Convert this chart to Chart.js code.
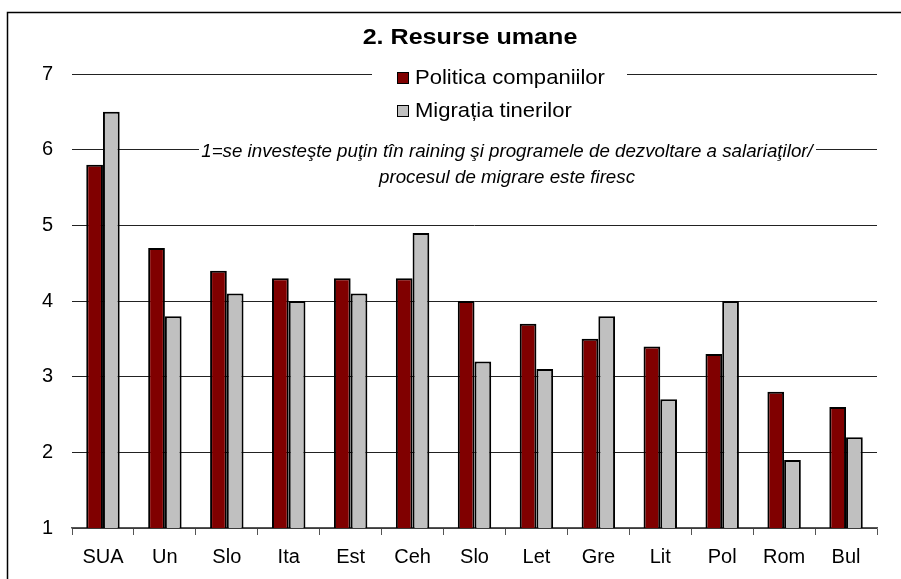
<!DOCTYPE html>
<html>
<head>
<meta charset="utf-8">
<script src="https://cdn.jsdelivr.net/npm/chart.js@4"></script>
<style>
  body { margin: 0; background: #fff; }
  #wrap { width: 901px; height: 579px; }
</style>
</head>
<body>
<div id="wrap"><canvas id="chartResurseCanvas" width="901" height="579"></canvas></div>
<script>
// data
var tari = ["SUA", "Un", "Slo", "Ita", "Est", "Ceh", "Slo", "Let", "Gre", "Lit", "Pol", "Rom", "Bul"];
var politicaCompaniilor = [5.8, 4.7, 4.4, 4.3, 4.3, 4.3, 4.0, 3.7, 3.5, 3.4, 3.3, 2.8, 2.6];
var migratiaTinerilor   = [6.5, 3.8, 4.1, 4.0, 4.1, 4.9, 3.2, 3.1, 3.8, 2.7, 4.0, 1.9, 2.2];
var yMin = 1, yMax = 7, yStep = 1;

var titlu = "2. Resurse umane";
var numeSerii = ["Politica companiilor", "Migrația tinerilor"];
var culori = ["#800000", "#C0C0C0"];
var nota = ["1=se investeşte puţin tîn raining şi programele de dezvoltare a salariaţilor/",
            "procesul de migrare este firesc"];

var FONT = "'Liberation Sans', Arial, sans-serif";

// text a bit stretched sideways, like the original picture
function textLat(ctx, txt, x, y, sx) {
    ctx.save();
    ctx.translate(x, y);
    ctx.scale(sx, 1);
    ctx.fillText(txt, 0, 0);
    ctx.restore();
}

// title, legend box, note box and the outer frame
var decor = {
    id: "decor",
    beforeDatasetsDraw: function(chart) {
        var ctx = chart.ctx;
        ctx.save();

        // legend box (hides the gridline at 7)
        ctx.fillStyle = "#fff";
        ctx.fillRect(372, 62, 255, 64);
        ctx.font = "21px " + FONT;
        ctx.textBaseline = "middle";
        ctx.textAlign = "left";
        for (var i = 0; i < numeSerii.length; i++) {
            var y = 78 + i * 33;
            ctx.fillStyle = culori[i];
            ctx.fillRect(397, y - 6, 12, 12);
            ctx.strokeStyle = "#000";
            ctx.lineWidth = 1;
            ctx.strokeRect(397.5, y - 5.5, 11, 11);
            ctx.fillStyle = "#000";
            textLat(ctx, numeSerii[i], 415, y, 1.05);
        }

        // note box (hides the gridline at 6)
        ctx.fillStyle = "#fff";
        ctx.fillRect(199, 140, 617, 50);
        ctx.fillStyle = "#000";
        ctx.font = "italic 17.5px " + FONT;
        ctx.textAlign = "center";
        textLat(ctx, nota[0], 507, 152, 1.07);
        textLat(ctx, nota[1], 507, 178, 1.07);

        // title
        ctx.font = "bold 22px " + FONT;
        textLat(ctx, titlu, 470, 38, 1.14);

        // frame (cut at right and bottom like the picture)
        ctx.strokeStyle = "#000";
        ctx.lineWidth = 1.5;
        ctx.strokeRect(7.5, 12.5, 1200, 1200);
        ctx.restore();
    }
};

var canvas = document.getElementById("chartResurseCanvas");

new Chart(canvas, {
    type: "bar",
    data: {
        labels: tari,
        datasets: [{
            label: numeSerii[0],
            data: politicaCompaniilor,
            backgroundColor: culori[0],
            borderColor: "#000",
            borderWidth: 2,
            borderSkipped: false
        }, {
            label: numeSerii[1],
            data: migratiaTinerilor,
            backgroundColor: culori[1],
            borderColor: "#000",
            borderWidth: 2,
            borderSkipped: false
        }]
    },
    options: {
        responsive: false,
        animation: false,
        layout: { padding: { left: 7, top: 74, right: 24, bottom: 0 } },
        datasets: { bar: { categoryPercentage: 0.54, barPercentage: 1.0 } },
        plugins: {
            legend: { display: false },
            title: { display: false },
            tooltip: { enabled: false }
        },
        scales: {
            x: {
                grid: { drawOnChartArea: false, drawTicks: true, tickLength: 7, color: "#555" },
                border: { display: true, color: "#555", width: 1.5 },
                ticks: { color: "#000", font: { family: FONT, size: 20 }, padding: 10 },
                afterFit: function(scale) { scale.height = 51; }
            },
            y: {
                min: yMin,
                max: yMax,
                grid: { drawTicks: false, color: "#222", lineWidth: 1 },
                border: { display: false },
                ticks: { stepSize: yStep, color: "#000", font: { family: FONT, size: 20 }, padding: 19 },
                afterFit: function(scale) { scale.width = 65; }
            }
        }
    },
    plugins: [decor]
});
</script>
</body>
</html>
